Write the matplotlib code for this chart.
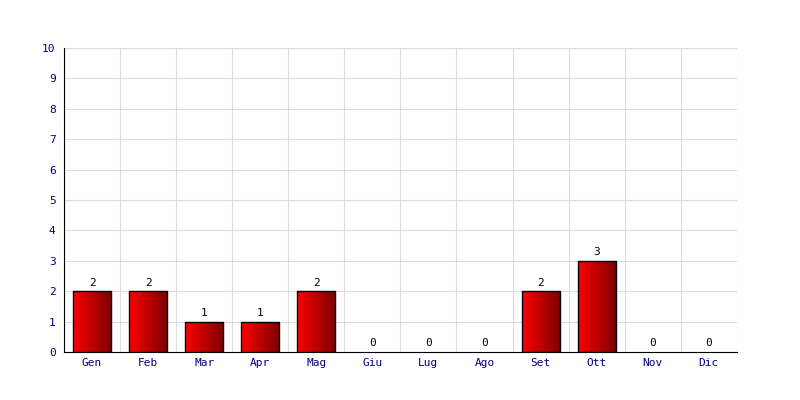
import matplotlib
matplotlib.use("Agg")
import matplotlib.pyplot as plt
import numpy as np

mesi = ["Gen", "Feb", "Mar", "Apr", "Mag", "Giu", "Lug", "Ago", "Set", "Ott", "Nov", "Dic"]
valori = [2, 2, 1, 1, 2, 0, 0, 0, 2, 3, 0, 0]

plt.rcParams["font.family"] = "DejaVu Sans Mono"

fig = plt.figure(figsize=(8, 4), dpi=100)
ax = fig.add_axes([0.08, 0.12, 0.841, 0.76])

x = np.arange(len(mesi))
ec = ["black" if v > 0 else "none" for v in valori]
bars = ax.bar(x, valori, width=0.68, color="none", edgecolor=ec, linewidth=1, zorder=3)

# gradient fill: bright red on the left to dark red on the right
grad = np.linspace(0, 1, 256).reshape(1, -1)
cmap = matplotlib.colors.LinearSegmentedColormap.from_list("rosso", ["#ff0000", "#7a0000"])
for b in bars:
    if b.get_height() == 0:
        continue
    im = ax.imshow(grad, cmap=cmap, aspect="auto", zorder=2,
                   extent=[b.get_x(), b.get_x() + b.get_width(), 0, b.get_height()])
    im.set_clip_path(b)

for xi, v in zip(x, valori):
    ax.text(xi, v + 0.12, str(v), ha="center", va="bottom", fontsize=8, color="black")

ax.set_xlim(-0.5, len(mesi) - 0.5)
ax.set_ylim(0, 10)
ax.set_yticks(range(0, 11))
ax.set_xticks(x)
ax.set_xticklabels(mesi)
ax.set_xticks(np.arange(-0.5, len(mesi)), minor=True)
ax.tick_params(axis="x", which="minor", length=0)
ax.tick_params(axis="both", which="major", labelsize=8, colors="#000080", length=0, pad=6)
ax.tick_params(axis="x", which="major", pad=4)

ax.grid(True, axis="y", color="#dcdcdc", linewidth=0.8, zorder=0)
ax.grid(True, axis="x", which="minor", color="#dcdcdc", linewidth=0.8, zorder=0)
ax.grid(False, axis="x", which="major")
ax.set_axisbelow(True)

for s in ["top", "right"]:
    ax.spines[s].set_visible(False)
ax.spines["left"].set_color("black")
ax.spines["bottom"].set_color("black")

fig.savefig("out.png", dpi=100)
